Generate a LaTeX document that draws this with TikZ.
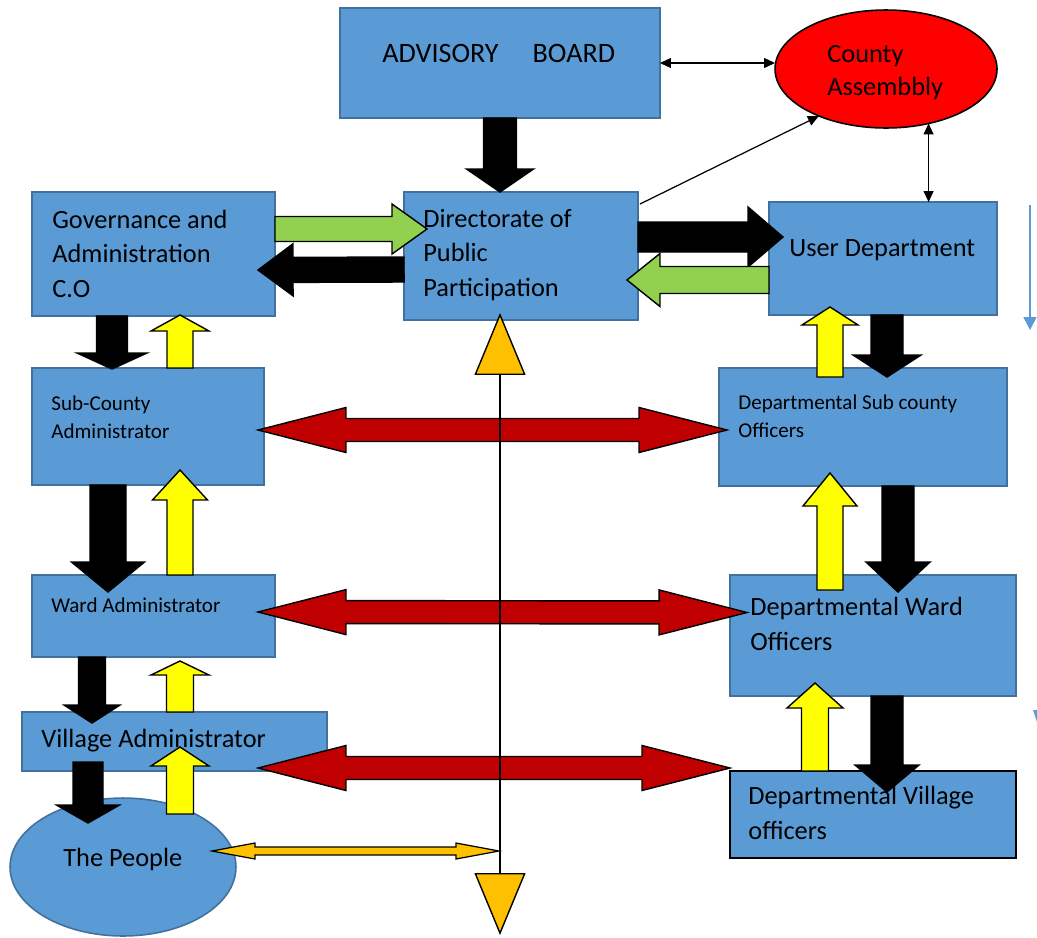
\documentclass[tikz,border=0pt]{standalone}
\usepackage{fontspec}
\setmainfont{Carlito}
\usetikzlibrary{arrows.meta, calc, shapes.geometric}
\definecolor{boxblue}{HTML}{5B9BD5}
\definecolor{boxline}{HTML}{41719C}
\definecolor{grn}{HTML}{92D050}
\definecolor{ylw}{HTML}{FFFF00}
\definecolor{redarr}{HTML}{C00000}
\definecolor{amber}{HTML}{FFC000}
\newcommand{\pxu}{0.02cm}
\tikzset{
  box/.style={rectangle, draw=boxline, fill=boxblue, line width=0.9pt, inner sep=0pt, outer sep=0pt},
  oval/.style={ellipse, draw=boxline, fill=boxblue, line width=0.9pt, inner sep=0pt, outer sep=0pt},
  lbl/.style={anchor=base west, align=left, inner sep=0pt, font=\fontsize{15}{19.5}\selectfont},
  slbl/.style={lbl, font=\fontsize{12}{15.8}\selectfont},
  link/.style={draw=black, line width=0.7pt},
  bshaft/.store in=\bshaft, bhead/.store in=\bhead, blen/.store in=\blen,
  bshaft=15, bhead=30, blen=20,
  bframe/.style={shift={(\p1)}, rotate=\n1},
  % block arrow, one head
  block/.style={draw=black, line width=0.8pt, fill=#1, line join=miter,
    to path={let \p1=(\tikztostart), \p2=(\tikztotarget),
        \n1={atan2(\y2-\y1,\x2-\x1)}, \n2={veclen(\x2-\x1,\y2-\y1)} in
      ([bframe]0pt,\bshaft*\pxu) -- ([bframe]\n2-\blen*\pxu,\bshaft*\pxu)
      -- ([bframe]\n2-\blen*\pxu,\bhead*\pxu) -- (\p2)
      -- ([bframe]\n2-\blen*\pxu,-\bhead*\pxu) -- ([bframe]\n2-\blen*\pxu,-\bshaft*\pxu)
      -- ([bframe]0pt,-\bshaft*\pxu) -- cycle}},
  % block arrow, two heads
  dblock/.style={draw=black, line width=0.8pt, fill=#1, line join=miter,
    to path={let \p1=(\tikztostart), \p2=(\tikztotarget),
        \n1={atan2(\y2-\y1,\x2-\x1)}, \n2={veclen(\x2-\x1,\y2-\y1)} in
      (\p1) -- ([bframe]\blen*\pxu,\bhead*\pxu) -- ([bframe]\blen*\pxu,\bshaft*\pxu)
      -- ([bframe]\n2-\blen*\pxu,\bshaft*\pxu) -- ([bframe]\n2-\blen*\pxu,\bhead*\pxu)
      -- (\p2)
      -- ([bframe]\n2-\blen*\pxu,-\bhead*\pxu) -- ([bframe]\n2-\blen*\pxu,-\bshaft*\pxu)
      -- ([bframe]\blen*\pxu,-\bshaft*\pxu) -- ([bframe]\blen*\pxu,-\bhead*\pxu)
      -- cycle}}
}
\begin{document}
\begin{tikzpicture}[x=0.02cm, y=-0.02cm, >={Triangle[length=0.22cm, width=0.2cm]}]
\useasboundingbox (0,0) rectangle (1037,937);
% offices
\node[box, minimum width=6.4cm,  minimum height=2.2cm]  (adv)   at (500,63) {};
\node[oval, fill=red, draw=black, minimum width=4.44cm, minimum height=2.36cm] (county) at (886,69) {};
\node[box, minimum width=4.68cm, minimum height=2.56cm] (dir)   at (521,256) {};
\node[box, minimum width=4.86cm, minimum height=2.48cm] (gov)   at (153.5,254) {};
\node[box, minimum width=4.56cm, minimum height=2.26cm] (user)  at (883,258.5) {};
\node[box, minimum width=4.64cm, minimum height=2.34cm] (sub)   at (148,426.5) {};
\node[box, minimum width=5.76cm, minimum height=2.36cm] (dsub)  at (863,427) {};
\node[box, minimum width=4.86cm, minimum height=1.64cm] (ward)  at (153.5,616) {};
\node[box, minimum width=5.72cm, minimum height=2.42cm] (dward) at (873,635.5) {};
\node[box, minimum width=6.1cm,  minimum height=1.18cm] (vil)   at (174.5,741.5) {};
\node[box, draw=black, line width=1.1pt, minimum width=5.72cm, minimum height=1.74cm] (dvil) at (873,814.5) {};
\node[oval, minimum width=4.52cm, minimum height=2.76cm] (people) at (123,867) {};

% texts (anchored on the last baseline)
\node[lbl, font=\fontsize{16}{20}\selectfont] (adv-t) at (382,62) {ADVISORY\hspace{0.68cm}BOARD};
\node[lbl, font=\fontsize{15}{18.7}\selectfont] (county-t) at (827,95) {County\\Assembbly};
\node[lbl] (dir-t)    at (423,296) {Directorate of\\Public\\Participation};
\node[lbl] (gov-t)    at (52,297)  {Governance and\\Administration\\C.O};
\node[lbl] (user-t)   at (789,256) {User Department};
\node[slbl] (sub-t)   at (51,438)  {Sub-County\\Administrator};
\node[slbl] (dsub-t)  at (738,437) {Departmental Sub county\\Officers};
\node[slbl] (ward-t)  at (51,612)  {Ward Administrator};
\node[lbl] (dward-t)  at (750,650) {Departmental Ward\\Officers};
\node[lbl] (vil-t)    at (41,747)  {Village Administrator};
\node[lbl] (dvil-t)   at (748,839) {Departmental Village\\officers};
\node[lbl] (people-t) at (63,866)  {The People};

% top level
\draw[block=black, bshaft=16.5, bhead=33.5, blen=23] (adv.south) to (adv.south |- dir.north);
\draw[block=grn, bshaft=12.5, bhead=25, blen=35] ($(gov.east)+(0,-25)$) to ($(dir.west)+(23,-27)$);
\draw[block=black, bshaft=12.5, bhead=26, blen=35] ($(dir.west)+(0,13.5)$) to ($(gov.east)+(-17,16)$);
\draw[block=black, bshaft=15, bhead=30, blen=35] ($(dir.east)+(0,-19)$) to ($(user.west)+(14,-21.5)$);
\draw[block=grn, bshaft=13.5, bhead=26.5, blen=33] ($(user.west)+(0,21.5)$) to ($(dir.east)+(-11,24)$);

% administration side
\draw[block=black, bshaft=15.5, bhead=35, blen=16] ($(gov.south)+(-41.5,0)$) to ($(sub.north)+(-36,1)$);
\draw[block=ylw, bshaft=13, bhead=29, blen=16] ($(sub.north)+(32,0)$) to ($(gov.south)+(26.5,-1)$);
\draw[block=black, bshaft=18, bhead=36.5, blen=30] ($(sub.south)+(-40,0)$) to ($(ward.north)+(-45.5,17)$);
\draw[block=ylw, bshaft=13, bhead=27.5, blen=30] ($(ward.north)+(26.5,0)$) to ($(sub.south)+(32,-15)$);
\draw[block=black, bshaft=13.5, bhead=28, blen=18] ($(ward.south)+(-61.5,0)$) to ($(vil.north)+(-82.5,11)$);
\draw[block=ylw, bshaft=13.5, bhead=29, blen=14] ($(vil.north)+(5.5,0)$) to ($(ward.south)+(26.5,4)$);
\draw[block=black, bshaft=15, bhead=31.5, blen=18] ($(vil.south)+(-86.5,-9)$) to ($(people.north)+(-35,25)$);
\draw[block=ylw, bshaft=13.5, bhead=29, blen=19] ($(people.north)+(57,16)$) to ($(vil.south)+(5.5,-24)$);

% department side
\draw[block=black, bshaft=16, bhead=34, blen=22] ($(user.south)+(4,0)$) to ($(dsub.north)+(24,9)$);
\draw[block=ylw, bshaft=13, bhead=28, blen=18] ($(dsub.north)+(-33,9)$) to ($(user.south)+(-53,-8)$);
\draw[block=black, bshaft=16, bhead=32, blen=30] ($(dsub.south)+(35,0)$) to ($(dward.north)+(25,17)$);
\draw[block=ylw, bshaft=13, bhead=27, blen=33] ($(dward.north)+(-43,15)$) to ($(dsub.south)+(-33,-13)$);
\draw[block=black, bshaft=16, bhead=32, blen=27] ($(dward.south)+(14,0)$) to ($(dvil.north)+(14,21)$);
\draw[block=ylw, bshaft=13.5, bhead=28, blen=25] ($(dvil.north)+(-58,0)$) to ($(dward.south)+(-58,-13)$);

% links between levels
\draw[dblock=redarr, bshaft=11.5, bhead=22.5, blen=88] ($(sub.east)+(-6,3.5)$) to ($(dsub.west)+(8,3)$);
\draw[dblock=redarr, bshaft=11.5, bhead=22.5, blen=88] ($(ward.east)+(-17,-4)$) to ($(dward.west)+(17,-23)$);
\draw[dblock=redarr, bshaft=11.5, bhead=22.5, blen=88] ($(vil.east)+(-69,26.5)$) to ($(dvil.west)+(0,-46.5)$);

% public participation line
\coordinate (low) at (500,935);
\draw[line width=0.8pt, {Triangle[width=1.02cm, length=1.24cm, fill=amber]}-{Triangle[width=1.02cm, length=1.24cm, fill=amber]}]
  ($(dir.south)+(-21,-7)$) -- (low);
\draw[dblock=amber, bshaft=4, bhead=8, blen=43, line width=0.7pt] ($(people.east)+(-24,-16)$) to ($(low)+(-1,-84)$);

% thin arrows
\draw[link, <->] (adv.east) -- (adv.east -| county.west);
\draw[link, ->] ($(dir.north east)+(2,12)$) -- (county.215);
\draw[link, <->] (county.308) -- (county.308 |- user.north);
\coordinate (side-a) at (1030,205);
\coordinate (side-b) at (1030,330);
\draw[boxblue, line width=0.9pt, -{Triangle[length=0.26cm, width=0.26cm]}] (side-a) -- (side-b);
\fill[boxblue] (1033,710) -- (1037,710) -- (1037,722) -- cycle;
\end{tikzpicture}
\end{document}
